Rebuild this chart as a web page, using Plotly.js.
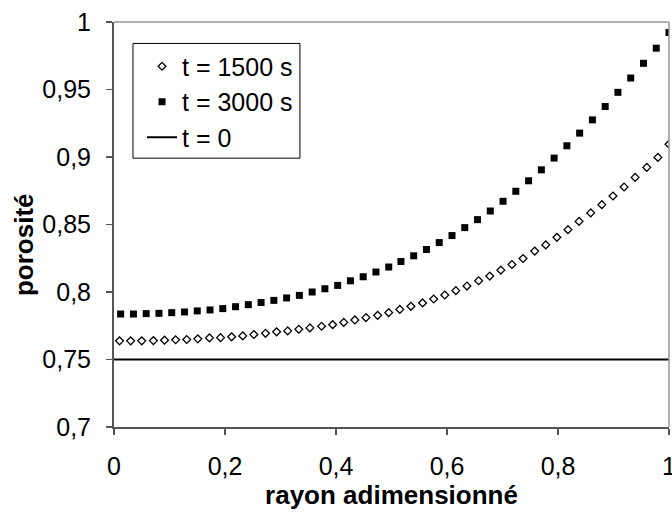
<!DOCTYPE html>
<html>
<head>
<meta charset="utf-8">
<script src="https://cdn.plot.ly/plotly-3.0.1.min.js"></script>
<style>html,body{margin:0;padding:0;background:#fff;}#chart{width:672px;height:515px;}</style>
</head>
<body>
<div id="chart"></div>
<script>
// t = 1500 s (open diamonds)
const x1500 = [0.010,0.030,0.050,0.071,0.091,0.111,0.131,0.151,0.172,0.192,0.212,0.232,0.252,0.273,0.293,0.313,0.333,0.353,0.374,0.394,0.414,0.434,0.454,0.475,0.495,0.515,0.535,0.556,0.576,0.596,0.616,0.636,0.657,0.677,0.697,0.717,0.737,0.758,0.778,0.798,0.818,0.838,0.859,0.879,0.899,0.919,0.939,0.960,0.980,1.000];
const y1500 = [0.7638,0.7638,0.7638,0.7640,0.7643,0.7646,0.7648,0.7653,0.7660,0.7662,0.7668,0.7675,0.7685,0.7694,0.7705,0.7712,0.7724,0.7734,0.7746,0.7758,0.7775,0.7793,0.7810,0.7827,0.7847,0.7871,0.7894,0.7919,0.7948,0.7978,0.8010,0.8044,0.8083,0.8118,0.8162,0.8204,0.8248,0.8303,0.8349,0.8405,0.8462,0.8523,0.8586,0.8647,0.8711,0.8778,0.8849,0.8923,0.8997,0.9095];
// t = 3000 s (filled squares)
const x3000 = [0.012,0.035,0.058,0.081,0.104,0.127,0.150,0.173,0.196,0.219,0.242,0.265,0.288,0.311,0.334,0.357,0.380,0.403,0.426,0.449,0.472,0.495,0.517,0.540,0.563,0.586,0.609,0.632,0.655,0.678,0.701,0.724,0.747,0.770,0.793,0.816,0.839,0.862,0.885,0.908,0.931,0.954,0.977,1.000];
const y3000 = [0.7837,0.7837,0.7840,0.7842,0.7847,0.7852,0.7860,0.7867,0.7877,0.7891,0.7906,0.7922,0.7938,0.7956,0.7975,0.8000,0.8024,0.8049,0.8083,0.8113,0.8148,0.8185,0.8226,0.8268,0.8315,0.8366,0.8418,0.8477,0.8536,0.8600,0.8672,0.8746,0.8824,0.8905,0.8992,0.9083,0.9177,0.9275,0.9374,0.9479,0.9585,0.9694,0.9806,0.9922];
// t = 0 (line)
const x0 = [0, 1];
const y0 = [0.75, 0.75];

const xTickVals = [0, 0.2, 0.4, 0.6, 0.8, 1];
const xTickText = ['0', '0,2', '0,4', '0,6', '0,8', '1'];
const yTickVals = [0.7, 0.75, 0.8, 0.85, 0.9, 0.95, 1];
const yTickText = ['0,7', '0,75', '0,8', '0,85', '0,9', '0,95', '1'];

const FONT = 'Liberation Sans, Arial, sans-serif';

const traces = [
  {x: x1500, y: y1500, name: 't = 1500 s', type: 'scatter', mode: 'markers',
   marker: {symbol: 'diamond-open', size: 6, color: '#000', line: {width: 1.3, color: '#000'}}},
  {x: x3000, y: y3000, name: 't = 3000 s', type: 'scatter', mode: 'markers',
   marker: {symbol: 'square', size: 7, color: '#000', line: {width: 0}}},
  {x: x0, y: y0, name: 't = 0', type: 'scatter', mode: 'lines',
   line: {color: '#000', width: 2}}
];

const layout = {
  width: 672, height: 515,
  margin: {l: 114, r: 3, t: 22, b: 88, pad: 0},
  paper_bgcolor: '#fff', plot_bgcolor: '#fff',
  font: {family: FONT, size: 24, color: '#000'},
  showlegend: true,
  legend: {x: 0.0505, y: 0.947, xanchor: 'left', yanchor: 'top',
    bgcolor: 'rgba(0,0,0,0)', borderwidth: 0,
    font: {family: FONT, size: 25, color: '#000'}, tracegroupgap: 0},
  xaxis: {range: [0, 1], tickvals: xTickVals, ticktext: xTickText,
    showgrid: false, zeroline: false, showline: true, linecolor: '#555', linewidth: 2,
    ticks: 'outside', ticklen: 6, tickwidth: 1.5, tickcolor: '#555',
    ticklabelstandoff: 10, ticklabeloverflow: 'allow',
    tickfont: {family: FONT, size: 25, color: '#000'},
    title: {text: '<b>rayon adimensionné</b>', font: {family: FONT, size: 26, color: '#000'}, standoff: 4}},
  yaxis: {range: [0.7, 1], tickvals: yTickVals, ticktext: yTickText,
    showgrid: false, zeroline: false, showline: true, linecolor: '#555', linewidth: 2,
    ticks: 'outside', ticklen: 6, tickwidth: 1.5, tickcolor: '#555',
    ticklabelstandoff: 10,
    tickfont: {family: FONT, size: 25, color: '#000'}},
  annotations: [
    {text: '<b>porosité</b>', xref: 'paper', yref: 'paper', x: -0.162, y: 0.4495,
     xanchor: 'center', yanchor: 'middle', textangle: -90, showarrow: false,
     font: {family: FONT, size: 26, color: '#000'}}
  ],
  shapes: [
    {type: 'line', xref: 'paper', yref: 'paper', x0: 0, x1: 1, y0: 1, y1: 1, line: {color: '#999', width: 1.5}},
    {type: 'line', xref: 'paper', yref: 'paper', x0: 1, x1: 1, y0: 0, y1: 1, line: {color: '#999', width: 1.5}},
    {type: 'rect', xref: 'paper', yref: 'paper', x0: 0.0342, x1: 0.335, y0: 0.6638, y1: 0.947,
     layer: 'above', fillcolor: '#fff', line: {color: '#000', width: 1}}
  ]
};

Plotly.newPlot('chart', traces, layout, {displayModeBar: false, staticPlot: true});
</script>
</body>
</html>
